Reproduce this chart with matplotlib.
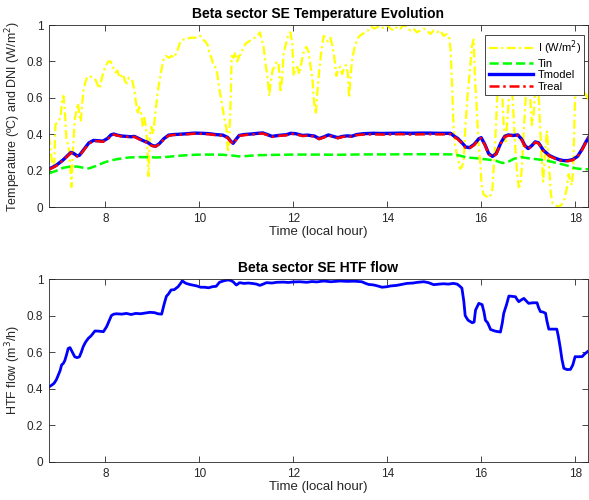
import matplotlib
matplotlib.use('Agg')
import matplotlib.pyplot as plt

plt.rcParams['font.family'] = ['Liberation Sans', 'DejaVu Sans']

# DNI (normalised)
t_dni = [6.80, 6.84, 6.88, 6.91, 6.94, 6.98, 7.02, 7.05, 7.08, 7.11, 7.14, 7.17, 7.22, 7.26, 7.28,
         7.31, 7.35, 7.38, 7.42, 7.45, 7.48, 7.53, 7.57, 7.61, 7.67, 7.73, 7.79, 7.84, 7.88, 7.93,
         7.97, 8.02, 8.07, 8.11, 8.15, 8.18, 8.22, 8.26, 8.30, 8.34, 8.38, 8.42, 8.46, 8.50, 8.54,
         8.58, 8.62, 8.65, 8.69, 8.72, 8.76, 8.80, 8.83, 8.86, 8.89, 8.92, 8.95, 8.98, 9.02, 9.05,
         9.08, 9.12, 9.16, 9.20, 9.24, 9.29, 9.35, 9.41, 9.46, 9.50, 9.55, 9.60, 9.66, 9.72, 9.80,
         9.88, 9.96, 10.02, 10.08, 10.13, 10.18, 10.22, 10.26, 10.30, 10.34, 10.38, 10.42, 10.46,
         10.50, 10.54, 10.58, 10.61, 10.64, 10.67, 10.69, 10.73, 10.77, 10.81, 10.85, 10.89, 10.94,
         11.00, 11.06, 11.12, 11.18, 11.24, 11.29, 11.33, 11.37, 11.41, 11.45, 11.49, 11.52, 11.56,
         11.60, 11.65, 11.69, 11.73, 11.76, 11.80, 11.85, 11.89, 11.94, 11.98, 12.01, 12.05, 12.09,
         12.13, 12.18, 12.23, 12.28, 12.33, 12.37, 12.41, 12.45, 12.48, 12.51, 12.55, 12.60, 12.65,
         12.70, 12.74, 12.79, 12.84, 12.88, 12.92, 12.96, 13.00, 13.04, 13.08, 13.12, 13.16, 13.19,
         13.22, 13.26, 13.31, 13.36, 13.41, 13.47, 13.53, 13.59, 13.66, 13.73, 13.80, 13.87, 13.94,
         14.00, 14.07, 14.14, 14.21, 14.28, 14.35, 14.42, 14.49, 14.56, 14.63, 14.71, 14.78, 14.85,
         14.92, 14.99, 15.06, 15.13, 15.20, 15.27, 15.32, 15.35, 15.38, 15.41, 15.45, 15.50, 15.55,
         15.59, 15.63, 15.66, 15.70, 15.73, 15.77, 15.80, 15.84, 15.87, 15.91, 15.94, 15.98, 16.01,
         16.05, 16.10, 16.16, 16.21, 16.24, 16.27, 16.30, 16.33, 16.36, 16.40, 16.44, 16.48, 16.52,
         16.56, 16.60, 16.64, 16.68, 16.72, 16.76, 16.80, 16.84, 16.88, 16.92, 16.96, 17.00, 17.04,
         17.08, 17.12, 17.16, 17.20, 17.24, 17.28, 17.32, 17.36, 17.40, 17.44, 17.48, 17.52, 17.58,
         17.64, 17.70, 17.76, 17.82, 17.86, 17.90, 17.93, 17.96, 18.00, 18.04, 18.08, 18.12, 18.17,
         18.22, 18.27, 18.30]
dni = [0.39, 0.30, 0.22, 0.21, 0.45, 0.47, 0.48, 0.50, 0.58, 0.61, 0.53, 0.38, 0.33, 0.20, 0.11,
       0.30, 0.48, 0.52, 0.57, 0.50, 0.47, 0.63, 0.68, 0.71, 0.72, 0.71, 0.70, 0.67, 0.65, 0.71,
       0.75, 0.78, 0.80, 0.80, 0.78, 0.76, 0.74, 0.75, 0.71, 0.72, 0.73, 0.69, 0.68, 0.71, 0.70,
       0.69, 0.64, 0.58, 0.51, 0.55, 0.52, 0.44, 0.49, 0.45, 0.36, 0.17, 0.40, 0.44, 0.40, 0.48,
       0.55, 0.64, 0.70, 0.76, 0.81, 0.83, 0.82, 0.83, 0.82, 0.84, 0.87, 0.91, 0.92, 0.92, 0.93,
       0.93, 0.93, 0.94, 0.92, 0.91, 0.89, 0.84, 0.82, 0.78, 0.77, 0.74, 0.66, 0.60,
       0.54, 0.48, 0.43, 0.30, 0.38, 0.60, 0.83, 0.82, 0.85, 0.80, 0.83, 0.84, 0.88,
       0.90, 0.91, 0.92, 0.93, 0.94, 0.96, 0.92, 0.88, 0.79, 0.72, 0.61, 0.68, 0.75,
       0.77, 0.80, 0.78, 0.63, 0.70, 0.85, 0.90, 0.94, 0.96, 0.90, 0.72, 0.76, 0.77,
       0.73, 0.80, 0.86, 0.88, 0.85, 0.77, 0.70, 0.56, 0.51, 0.62, 0.74, 0.86, 0.94,
       0.92, 0.91, 0.93, 0.88, 0.81, 0.72, 0.76, 0.77, 0.73, 0.76, 0.78, 0.74, 0.60,
       0.72, 0.82, 0.88, 0.92, 0.94, 0.95, 0.96, 0.97, 0.99, 0.98, 0.99, 0.98, 0.99,
       1.00, 0.98, 0.97, 0.99, 0.98, 1.00, 0.99, 0.97, 0.98, 0.96, 0.97, 0.98, 0.97,
       0.95, 0.97, 0.96, 0.97, 0.94, 0.95, 0.93, 0.86, 0.68, 0.45, 0.33, 0.27, 0.21,
       0.22, 0.26, 0.42, 0.58, 0.66, 0.78, 0.88, 0.92, 0.70, 0.52, 0.36, 0.25, 0.12,
       0.07, 0.06, 0.05, 0.07, 0.10, 0.23, 0.36, 0.54, 0.68, 0.78, 0.66, 0.45, 0.36,
       0.48, 0.64, 0.72, 0.55, 0.35, 0.20, 0.11, 0.12, 0.28, 0.48, 0.65, 0.72, 0.62,
       0.45, 0.52, 0.70, 0.75, 0.52, 0.30, 0.14, 0.30, 0.42, 0.25, 0.08, 0.02, 0.01,
       0.00, 0.01, 0.03, 0.10, 0.18, 0.14, 0.12, 0.22, 0.62, 0.82, 0.75, 0.70, 0.66,
       0.62, 0.60, 0.58]

# inlet temperature (normalised)
t_in = [6.80, 6.95, 7.10, 7.25, 7.40, 7.55, 7.65, 7.80, 7.95, 8.10, 8.30, 8.50, 8.70, 8.90, 9.10,
        9.30, 9.50, 9.70, 9.90, 10.10, 10.30, 10.50, 10.70, 10.85, 11.00, 11.20, 11.50, 12.00,
        12.50, 13.00, 13.50, 14.00, 14.50, 15.00, 15.40, 15.55, 15.70, 15.90, 16.10, 16.30, 16.45,
        16.55, 16.70, 16.85, 17.00, 17.20, 17.40, 17.60, 17.80, 18.00, 18.15, 18.30]
tin = [0.185, 0.198, 0.215, 0.222, 0.222, 0.215, 0.212, 0.225, 0.242, 0.255, 0.265, 0.272, 0.274,
       0.274, 0.272, 0.275, 0.280, 0.284, 0.287, 0.288, 0.288, 0.287, 0.283, 0.278, 0.280, 0.284,
       0.286, 0.288, 0.288, 0.287, 0.289, 0.289, 0.290, 0.290, 0.289, 0.282, 0.272, 0.268, 0.262,
       0.255, 0.242, 0.245, 0.265, 0.274, 0.268, 0.262, 0.255, 0.242, 0.230, 0.213, 0.208, 0.207]

# outlet temperature, model and measured (normalised)
t_out = [6.80, 6.95, 7.10, 7.20, 7.27, 7.33, 7.40, 7.45, 7.55, 7.65, 7.75, 7.85, 7.95, 8.05, 8.12,
         8.18, 8.25, 8.35, 8.45, 8.55, 8.62, 8.70, 8.80, 8.90, 9.00, 9.07, 9.15, 9.25, 9.35, 9.45,
         9.60, 9.75, 9.90, 10.05, 10.20, 10.35, 10.50, 10.60, 10.67, 10.72, 10.78, 10.85, 10.95,
         11.10, 11.25, 11.35, 11.45, 11.55, 11.65, 11.75, 11.85, 11.95, 12.05, 12.20, 12.30, 12.45,
         12.55, 12.65, 12.75, 12.85, 12.95, 13.05, 13.15, 13.25, 13.35, 13.50, 13.70, 13.90, 14.10,
         14.30, 14.50, 14.70, 14.90, 15.10, 15.25, 15.35, 15.42, 15.50, 15.58, 15.67, 15.75, 15.85,
         15.95, 16.00, 16.08, 16.16, 16.24, 16.32, 16.42, 16.50, 16.58, 16.68, 16.78, 16.86, 16.93,
         17.00, 17.08, 17.15, 17.22, 17.32, 17.45, 17.55, 17.65, 17.75, 17.85, 17.95, 18.05, 18.15,
         18.22, 18.30]
treal = [0.205, 0.225, 0.255, 0.280, 0.298, 0.292, 0.278, 0.280, 0.315, 0.348, 0.362, 0.362, 0.358,
         0.372, 0.392, 0.398, 0.393, 0.388, 0.386, 0.384, 0.386, 0.375, 0.362, 0.352, 0.335, 0.332,
         0.345, 0.372, 0.392, 0.396, 0.397, 0.400, 0.403, 0.402, 0.400, 0.395, 0.392, 0.380, 0.360,
         0.347, 0.368, 0.390, 0.395, 0.398, 0.402, 0.404, 0.395, 0.385, 0.390, 0.392, 0.394, 0.402,
         0.400, 0.390, 0.392, 0.388, 0.373, 0.382, 0.393, 0.385, 0.378, 0.385, 0.388, 0.386, 0.395,
         0.398, 0.399, 0.398, 0.399, 0.400, 0.398, 0.399, 0.400, 0.399, 0.399, 0.400, 0.386, 0.373,
         0.352, 0.325, 0.322, 0.340, 0.372, 0.378, 0.340, 0.290, 0.275, 0.290, 0.350, 0.385, 0.393,
         0.390, 0.393, 0.370, 0.335, 0.318, 0.335, 0.355, 0.350, 0.310, 0.280, 0.268, 0.258, 0.252,
         0.252, 0.258, 0.275, 0.315, 0.350, 0.385]
tmodel = [0.208, 0.228, 0.258, 0.283, 0.300, 0.294, 0.281, 0.284, 0.318, 0.352, 0.366, 0.364, 0.362,
          0.377, 0.396, 0.401, 0.395, 0.390, 0.388, 0.386, 0.388, 0.378, 0.365, 0.355, 0.338, 0.334,
          0.348, 0.376, 0.395, 0.398, 0.400, 0.403, 0.406, 0.405, 0.403, 0.398, 0.395, 0.383, 0.362,
          0.350, 0.371, 0.393, 0.398, 0.401, 0.405, 0.407, 0.398, 0.388, 0.392, 0.395, 0.397, 0.405,
          0.403, 0.393, 0.395, 0.390, 0.376, 0.385, 0.396, 0.388, 0.381, 0.388, 0.391, 0.389, 0.398,
          0.403, 0.405, 0.404, 0.405, 0.406, 0.405, 0.406, 0.406, 0.405, 0.405, 0.405, 0.390, 0.377,
          0.356, 0.330, 0.326, 0.344, 0.375, 0.381, 0.343, 0.293, 0.278, 0.293, 0.353, 0.388, 0.396,
          0.393, 0.396, 0.373, 0.338, 0.321, 0.338, 0.358, 0.353, 0.313, 0.283, 0.271, 0.261, 0.255,
          0.255, 0.261, 0.278, 0.318, 0.353, 0.388]

# HTF flow (normalised)
t_flow = [6.80, 6.86, 6.91, 6.96, 7.00, 7.04, 7.07, 7.11, 7.14, 7.18, 7.21, 7.25, 7.28, 7.32, 7.35,
          7.40, 7.45, 7.49, 7.53, 7.58, 7.64, 7.70, 7.78, 7.86, 7.96, 8.03, 8.08, 8.13, 8.18, 8.24,
          8.35, 8.45, 8.55, 8.65, 8.75, 8.85, 8.95, 9.05, 9.12, 9.20, 9.25, 9.30, 9.35, 9.40, 9.47,
          9.55, 9.60, 9.64, 9.68, 9.72, 9.80, 9.86, 9.95, 10.03, 10.11, 10.20, 10.28, 10.36, 10.43,
          10.52, 10.61, 10.67, 10.72, 10.79, 10.86, 10.95, 11.05, 11.15, 11.22, 11.29, 11.36, 11.43,
          11.55, 11.65, 11.79, 11.90, 12.00, 12.14, 12.29, 12.40, 12.50, 12.65, 12.80, 13.00, 13.15,
          13.30, 13.46, 13.55, 13.61, 13.70, 13.80, 13.89, 14.00, 14.07, 14.20, 14.30, 14.42, 14.55,
          14.65, 14.78, 14.88, 14.99, 15.10, 15.20, 15.30, 15.41, 15.49, 15.54, 15.59, 15.63, 15.66,
          15.72, 15.81, 15.85, 15.88, 15.95, 16.02, 16.06, 16.09, 16.14, 16.20, 16.30, 16.41, 16.45,
          16.48, 16.54, 16.59, 16.66, 16.73, 16.76, 16.80, 16.85, 16.91, 16.96, 17.01, 17.10, 17.19,
          17.22, 17.26, 17.31, 17.37, 17.40, 17.44, 17.52, 17.61, 17.64, 17.68, 17.72, 17.76, 17.83,
          17.90, 17.95, 18.00, 18.05, 18.15, 18.20, 18.25, 18.30]
flow = [0.41, 0.42, 0.43, 0.45, 0.475, 0.50, 0.53, 0.54, 0.555, 0.59, 0.62, 0.625, 0.61, 0.59, 0.575,
        0.57, 0.575, 0.60, 0.63, 0.655, 0.676, 0.69, 0.716, 0.715, 0.712, 0.74, 0.77, 0.80, 0.808, 0.81,
        0.808, 0.812, 0.806, 0.812, 0.81, 0.814, 0.818, 0.816, 0.81, 0.808, 0.86, 0.905, 0.92, 0.94, 0.942,
        0.958, 0.975, 0.99, 0.982, 0.976, 0.97, 0.967, 0.962, 0.955, 0.955, 0.952, 0.958, 0.96, 0.982,
        0.99, 0.995, 0.992, 0.985, 0.967, 0.98, 0.976, 0.978, 0.975, 0.972, 0.965, 0.972, 0.98,
        0.978, 0.982, 0.983, 0.981, 0.984, 0.985, 0.982, 0.986, 0.984, 0.989, 0.985, 0.989, 0.987,
        0.988, 0.985, 0.975, 0.97, 0.968, 0.962, 0.955, 0.958, 0.962, 0.965, 0.97, 0.976, 0.978,
        0.982, 0.985, 0.98, 0.969, 0.972, 0.974, 0.972, 0.976, 0.972, 0.962, 0.95, 0.88, 0.80,
        0.775, 0.761, 0.765, 0.83, 0.867, 0.86, 0.82, 0.775, 0.76, 0.724, 0.715, 0.71, 0.76,
        0.812, 0.86, 0.907, 0.905, 0.903, 0.89, 0.876, 0.885, 0.894, 0.88, 0.867, 0.87, 0.87,
        0.845, 0.822, 0.82, 0.813, 0.77, 0.726, 0.726, 0.726, 0.69, 0.63, 0.56, 0.512, 0.505,
        0.506, 0.53, 0.576, 0.575, 0.576, 0.59, 0.60, 0.61]

fig = plt.figure(figsize=(5.89, 5.0), dpi=100)
ax1 = fig.add_axes([0.083, 0.586, 0.915, 0.364])
ax2 = fig.add_axes([0.083, 0.076, 0.915, 0.366])

ax1.plot(t_dni, dni, color='#ffff00', linewidth=1.6, dashes=(4, 1.5, 1, 1.5), label='I (W/m$^2$)')
ax1.plot(t_in, tin, color='#00ff00', linestyle='--', linewidth=1.8, label='Tin')
ax1.plot(t_out, tmodel, color='#0000ff', linestyle='-', linewidth=2.4, label='Tmodel')
ax1.plot(t_out, treal, color='#ff0000', linewidth=1.8, dashes=(4, 1.5, 1, 1.5), label='Treal')

ax2.plot(t_flow, flow, color='#0000ff', linewidth=2.0)

for ax in (ax1, ax2):
    ax.set_xlim(6.8, 18.27)
    ax.set_ylim(0, 1)
    ax.set_xticks([8, 10, 12, 14, 16, 18])
    ax.set_yticks([0, 0.2, 0.4, 0.6, 0.8, 1])
    ax.set_yticklabels(['0', '0.2', '0.4', '0.6', '0.8', '1'])
    ax.tick_params(direction='in', top=True, right=True, length=4, width=0.6,
                   labelsize=8.5, colors='#262626', pad=4)
    for s in ax.spines.values():
        s.set_color('#262626')
        s.set_linewidth(0.6)
    ax.set_xlabel('Time (local hour)', fontsize=9.5, color='#262626', labelpad=1)

ax1.set_title('Beta sector SE Temperature Evolution', fontsize=10, fontweight='bold', pad=5)
ax1.set_ylabel('Temperature (ºC) and DNI (W/m$^2$)', fontsize=9, color='#262626', labelpad=3)
ax2.set_title('Beta sector SE HTF flow', fontsize=10, fontweight='bold', pad=5)
ax2.set_ylabel('HTF flow (m$^3$/h)', fontsize=9, color='#262626', labelpad=3)

leg = ax1.legend(loc='upper right', bbox_to_anchor=(0.993, 0.945), fontsize=8, fancybox=False,
                 framealpha=1, edgecolor='#262626', borderpad=0.3, labelspacing=0.15,
                 handlelength=4.0, handletextpad=0.4, borderaxespad=0)
leg.get_frame().set_linewidth(0.6)

plt.savefig('out.png', dpi=100)
